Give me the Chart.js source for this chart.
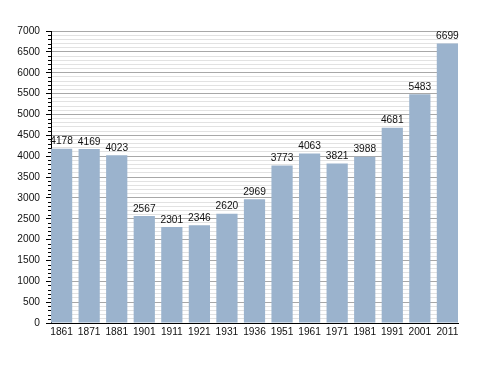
<!DOCTYPE html>
<html>
<head>
<meta charset="utf-8">
<script src="https://cdn.jsdelivr.net/npm/chart.js@4/dist/chart.umd.min.js"></script>
<style>
  html, body { margin: 0; padding: 0; background: #fff; }
  #wrap { width: 488px; height: 373px; }
</style>
</head>
<body>
<div id="wrap"><canvas id="myChart" width="488" height="373"></canvas></div>
<script>
var years = ["1861","1871","1881","1901","1911","1921","1931","1936","1951","1961","1971","1981","1991","2001","2011"]
var population = [4178,4169,4023,2567,2301,2346,2620,2969,3773,4063,3821,3988,4681,5483,6699]
var yMax = 7000
var majorStep = 500
var minorStep = 100

var points = []
for (var i = 0; i < years.length; i++) {
    points.push({x: i, y: population[i]})
}

var barPct = 0.77
var half = barPct / 2
var fontFam = '"Liberation Sans", Arial, sans-serif'
var fontSize = 10.2

// small ticks every 100 on the y axis, value labels over the bars
var extras = {
    id: 'extras',
    afterDraw: function(chart) {
        var ctx = chart.ctx
        var y = chart.scales.y
        var left = chart.chartArea.left
        ctx.save()
        ctx.strokeStyle = '#000'
        ctx.lineWidth = 1
        for (var v = 0; v <= yMax; v += minorStep) {
            if (v % majorStep === 0) continue
            var py = Math.round(y.getPixelForValue(v)) + 0.5
            ctx.beginPath()
            ctx.moveTo(left - 3, py)
            ctx.lineTo(left, py)
            ctx.stroke()
        }
        ctx.fillStyle = '#111'
        ctx.font = fontSize + 'px ' + fontFam
        ctx.textAlign = 'center'
        ctx.textBaseline = 'bottom'
        var meta = chart.getDatasetMeta(0)
        meta.data.forEach(function(bar, idx) {
            ctx.fillText(population[idx], bar.x, bar.y - 2)
        })
        ctx.restore()
    }
}

var chart = new Chart(document.getElementById("myChart").getContext('2d'), {
    type: 'bar',
    data: {
        datasets: [{
            data: points,
            backgroundColor: '#9bb3cd',
            borderWidth: 0,
            barPercentage: barPct,
            categoryPercentage: 1
        }]
    },
    options: {
        responsive: false,
        animation: false,
        events: [],
        layout: { padding: { top: 31, right: 30, left: 0, bottom: 0 } },
        plugins: { legend: { display: false }, tooltip: { enabled: false } },
        scales: {
            x: {
                type: 'linear',
                offset: false,
                min: -half,
                max: years.length - 1 + half,
                grid: { display: false, drawTicks: false, offset: false },
                border: { display: true, color: '#000', width: 1 },
                ticks: {
                    stepSize: 1,
                    includeBounds: false,
                    autoSkip: false,
                    maxRotation: 0,
                    padding: 3,
                    color: '#111',
                    font: { family: fontFam, size: fontSize },
                    callback: function(v) { return years[v] }
                },
                afterFit: function(scale) { scale.height = 50 }
            },
            y: {
                min: 0,
                max: yMax,
                grid: {
                    color: function(c) { return c.tick.value % majorStep === 0 ? '#a8a8a8' : '#e2e2e2' },
                    tickColor: function(c) { return c.tick.value % majorStep === 0 ? '#000' : 'rgba(0,0,0,0)' },
                    tickLength: 5
                },
                border: { display: true, color: '#000', width: 1 },
                ticks: {
                    stepSize: minorStep,
                    autoSkip: false,
                    padding: 6,
                    color: '#111',
                    font: { family: fontFam, size: fontSize },
                    callback: function(v) { return v % majorStep === 0 ? v : '' }
                },
                afterFit: function(scale) { scale.width = 51 }
            }
        }
    },
    plugins: [extras]
})
</script>
</body>
</html>
